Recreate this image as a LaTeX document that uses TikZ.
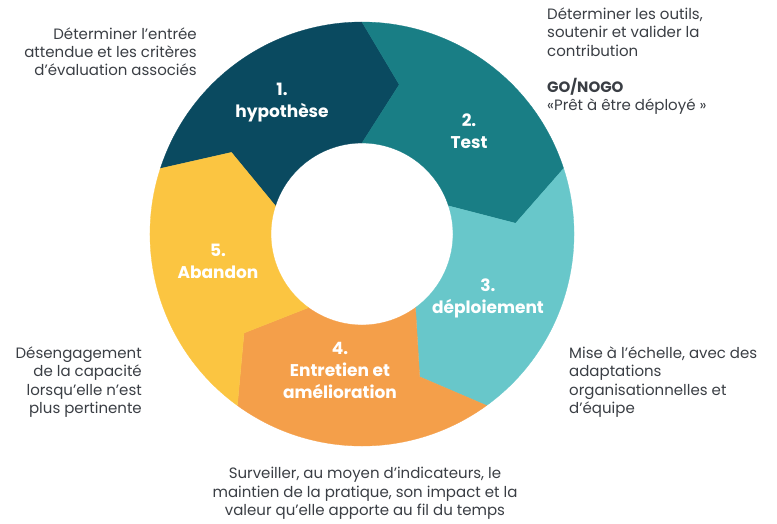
\documentclass[tikz,border=0pt]{standalone}
\usepackage{fontspec}
\setmainfont{Poppins}

\definecolor{hypcol}{RGB}{10,74,96}
\definecolor{testcol}{RGB}{25,126,133}
\definecolor{depcol}{RGB}{104,199,202}
\definecolor{entcol}{RGB}{244,159,74}
\definecolor{abacol}{RGB}{251,197,65}
\definecolor{notecol}{RGB}{58,62,68}

\begin{document}
\begin{tikzpicture}[x=1pt,y=1pt,yscale=-1,
  seglabel/.style={font=\fontsize{17}{22}\selectfont\bfseries, text=white, align=center, inner sep=0pt},
  note/.style={font=\fontsize{15}{18.2}\selectfont, text=notecol, inner sep=0pt}]
\useasboundingbox (0,0) rectangle (777,523);

%Shape: Ring of five arrow segments, centre (362,234)
\begin{scope}[shift={(362,234)}]
\foreach \col [count=\k from 0] in {hypcol,testcol,depcol,entcol,abacol} {
  \pgfmathsetmacro\ta{-162+72*\k}
  \pgfmathsetmacro\tb{\ta+72}
  \filldraw[fill=\col, draw=\col, line width=0.3pt] (\ta:212) arc[start angle=\ta, end angle=\tb, radius=212]
    -- ({\tb+14}:154) -- (\tb:91) arc[start angle=\tb, end angle=\ta, radius=91]
    -- ({\ta+14}:154) -- cycle;
}
\end{scope}

% Segment labels
\node[seglabel] (hyplabel) at (282,102.5) {1.\\hypothèse};
\node[seglabel] (testlabel) at (469,131) {2.\\Test};
\node[seglabel] (deplabel) at (488,298) {3.\\déploiement};
\node[seglabel] (entlabel) at (340,370.5) {4.\\Entretien et\\amélioration};
\node[seglabel] (abalabel) at (218,261) {5.\\Abandon};

% Text Node
\node[note, anchor=east, align=right] (hypnote) at (197,51.5) {Déterminer l’entrée\\attendue et les critères\\d’évaluation associés};
% Text Node
\node[note, anchor=west, align=left] (testnote) at (547,32) {Déterminer les outils,\\soutenir et valider la\\contribution};
\node[note, anchor=west, align=left] (gonote) at (547,96.2) {\textbf{GO/NOGO}\\«Prêt à être déployé »};
% Text Node
\node[note, anchor=west, align=left] (depnote) at (569,382) {Mise à l’échelle, avec des\\adaptations\\organisationnelles et\\d’équipe};
% Text Node
\node[note, anchor=center, align=center] (entnote) at (365,493.3) {Surveiller, au moyen d’indicateurs, le\\maintien de la pratique, son impact et la\\valeur qu’elle apporte au fil du temps};
% Text Node
\node[note, anchor=east, align=right] (abanote) at (142,382) {Désengagement\\de la capacité\\lorsqu’elle n’est\\plus pertinente};

\end{tikzpicture}
\end{document}
